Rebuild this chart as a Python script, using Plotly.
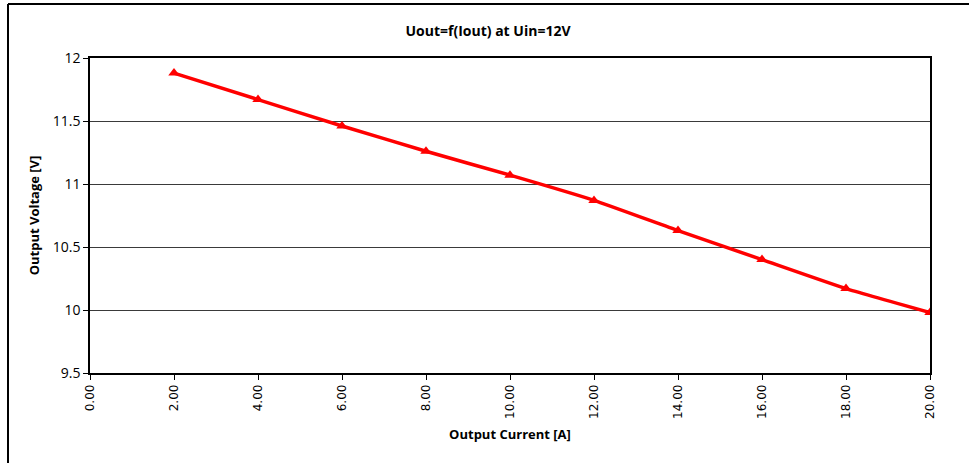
import plotly.graph_objects as go

current = [2, 4, 6, 8, 10, 12, 14, 16, 18, 20]
voltage = [11.88, 11.67, 11.46, 11.26, 11.07, 10.87, 10.63, 10.40, 10.17, 9.98]
x_ticks = [0, 2, 4, 6, 8, 10, 12, 14, 16, 18, 20]
y_ticks = [9.5, 10, 10.5, 11, 11.5, 12]

title_text = "Uout=f(Iout) at Uin=12V"
x_title = "Output Current [A]"
y_title = "Output Voltage [V]"

fig = go.Figure()
fig.add_trace(go.Scatter(
    x=current, y=voltage, mode="lines+markers",
    line=dict(color="#FF0000", width=3.5, shape="spline", smoothing=0.4),
    marker=dict(symbol="triangle-up", size=10, color="#FF0000"),
    showlegend=False,
))

L, R, T, B = 90, 39, 58, 90
W, H = 969, 463
pw, ph = W - L - R, H - T - B

def px(xp):
    return (xp - L) / pw

def py(yp):
    return (H - B - yp) / ph

fig.update_layout(
    width=W, height=H,
    margin=dict(l=L, r=R, t=T, b=B),
    paper_bgcolor="white", plot_bgcolor="white",
    font=dict(family="Open Sans, Liberation Sans, sans-serif", color="black", size=13),
    title=dict(text="<b>" + title_text + "</b>", x=488 / W, xanchor="center",
               y=1 - 31 / H, yanchor="middle", font=dict(size=14)),
    xaxis=dict(
        range=[0, 20], tickvals=x_ticks, ticktext=[f"{v:.2f}" for v in x_ticks],
        tickangle=-90, ticks="outside", ticklen=5, tickcolor="black",
        showline=True, linecolor="black", linewidth=1.5, mirror=True,
        showgrid=False, zeroline=False,
        tickfont=dict(family="DejaVu Sans", size=12),
        title=dict(text="<b>" + x_title + "</b>", font=dict(size=13), standoff=12),
    ),
    yaxis=dict(
        range=[9.5, 12], tickvals=y_ticks, ticktext=[f"{v:g}" for v in y_ticks],
        ticks="outside", ticklen=5, tickcolor="black",
        showline=True, linecolor="black", linewidth=1.5, mirror=True,
        showgrid=True, gridcolor="#3a3a3a", gridwidth=1, zeroline=False,
        tickfont=dict(size=14),
        title=dict(text="<b>" + y_title + "</b>", font=dict(size=13), standoff=10),
    ),
)

# outer chart-area border (top and left)
fig.add_shape(type="line", xref="paper", yref="paper",
              x0=px(8), x1=px(W + 5), y0=py(4), y1=py(4),
              line=dict(color="black", width=2))
fig.add_shape(type="line", xref="paper", yref="paper",
              x0=px(8), x1=px(8), y0=py(4), y1=py(H + 5),
              line=dict(color="black", width=2))

fig.write_html("out.html", config={"displayModeBar": False},
               post_script="document.body.style.margin='0';")
